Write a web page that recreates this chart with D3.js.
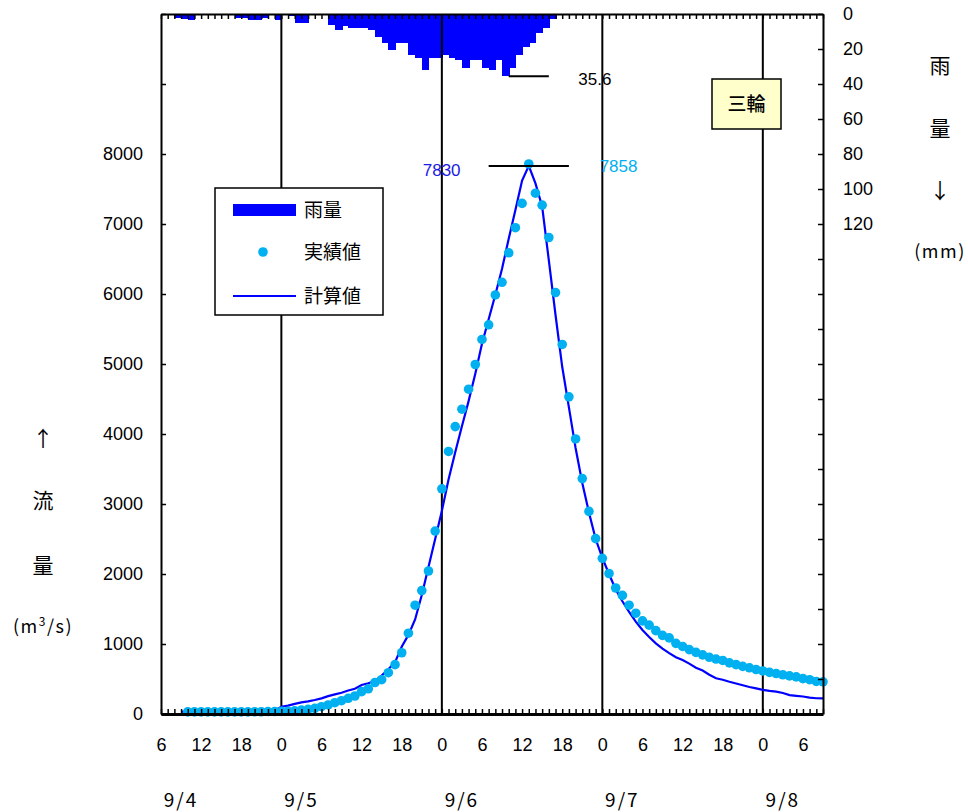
<!DOCTYPE html>
<html><head><meta charset="utf-8">
<script src="https://cdn.jsdelivr.net/npm/d3@7"></script>
<style>
body{margin:0;background:#fff;}
svg{display:block;}
text{font-family:"Liberation Sans",Arial,sans-serif;}
.jp{font-family:"Noto Sans CJK JP","Noto Sans",sans-serif;}
</style></head>
<body>
<svg id="c" width="968" height="812"></svg>
<script>
// ---- data (hours counted from 9/4 6:00) ----
const rainStart = 0;
const rain = [0,0,2,3,3.5,0,0,0,0,0, 0,2,2,3.5,3.5,2,0.5,3.5,0,1,
  5,5,0,0,0,6,9.2,7,8,8.1, 8.1,9.2,13.4,16.3,20.7,16.3,16.3,23.5,24.9,31.9,
  24.9,24.9,23.5,24.9,26.2,30.6,26.2,26.2,30.6,31.9, 26.2,35.6,30.6,23.3,19.1,16.3,11.1,8.1,3];
const obsStart = 4;
const obsFlow = [30,30,30,30,30,30,30,30,30,30,32,32,35,35,38,40,45,55,
  67,81,104,129,161,190,224,257,319,360,450,490,590,705,875,1154,1554,1763,2043,2614,
  3217,3751,4106,4354,4640,4993,5351,5560,5986,6167,6589,6947,7294,7858,7440,7269,6807,6021,
  5279,4531,3929,3363,2894,2506,2224,2007,1800,1694,1554,1440,1331,1269,1191,1123,1087,1009,
  965,920,880,845,810,785,765,730,705,680,660,635,615,595,578,560,545,530,505,490,465,460];
const calcStart = 3;
const calcFlow = [35,35,35,35,35,35,35,35,35,35,38,40,42,45,50,
  104,120,145,165,180,200,224,255,280,304,335,360,414,440,470,550,640,740,960,1130,1350,1700,
  2100,2500,2900,3350,3740,4110,4470,4860,5290,5640,5990,6360,6790,7200,7620,7830,7580,7250,
  6480,5700,4960,4380,3800,3300,2880,2500,2230,2000,1780,1610,1460,1320,1200,1100,1010,935,870,
  810,770,720,660,620,560,510,490,460,435,410,385,365,345,330,320,300,270,260,250,235,225,224];
const hourTickLabels = ["6","12","18","0","6","12","18","0","6","12","18","0","6","12","18","0","6"];
const dayLineHours = [18,42,66,90];
const dateLabels = ["9/4","9/5","9/6","9/7","9/8"];
const dateLabelHours = [3,21,45,69,93];
const flowTicks = [0,1000,2000,3000,4000,5000,6000,7000,8000,9000,10000];
const rainTicks = [0,20,40,60,80,100,120,140,160,180,200,220,240,260,280,300,320,340,360,380,400];
const peakCalc = {hour:55, value:7830, label:"7830"};
const peakObs = {hour:55, value:7858, label:"7858"};
const peakRain = {hour:51, value:35.6, label:"35.6"};
const stationName = "三輪";
const legendLabels = ["雨量","実績値","計算値"];

// ---- layout ----
const L=161, R=823, T=14, B=714;
const svg = d3.select("#c");
const x = d3.scaleLinear().domain([0,99]).range([L,R]);
const yL = d3.scaleLinear().domain([0,10000]).range([B,T]);
const yR = d3.scaleLinear().domain([0,400]).range([T,B]);
const BLUE="#0000FF", CYAN="#00B0F0";

// rain bars
svg.append("g").attr("shape-rendering","crispEdges").selectAll("rect").data(rain).join("rect")
  .attr("x",(d,i)=>x(rainStart+i))
  .attr("width",(d,i)=>x(rainStart+i+1)-x(rainStart+i)+1)
  .attr("y",yR(0))
  .attr("height",d=>yR(d)-yR(0))
  .attr("fill",BLUE);

// day lines
svg.append("g").selectAll("line").data(dayLineHours).join("line")
  .attr("x1",d=>x(d)).attr("x2",d=>x(d)).attr("y1",T).attr("y2",B)
  .attr("stroke","#000").attr("stroke-width",2);

// calc line
svg.append("path").datum(calcFlow)
  .attr("d",d3.line().x((d,i)=>x(calcStart+i)).y(d=>yL(d)))
  .attr("fill","none").attr("stroke",BLUE).attr("stroke-width",2.2);

// observed dots
svg.append("g").selectAll("circle").data(obsFlow).join("circle")
  .attr("cx",(d,i)=>x(obsStart+i)).attr("cy",d=>yL(d)).attr("r",4.8).attr("fill",CYAN);

// peak markers
svg.append("line").attr("x1",x(peakCalc.hour-6)).attr("x2",x(peakCalc.hour+6))
  .attr("y1",yL(peakCalc.value)).attr("y2",yL(peakCalc.value)).attr("stroke","#000").attr("stroke-width",2);
svg.append("text").attr("x",x(peakCalc.hour-10.2)).attr("y",yL(peakCalc.value)+10)
  .attr("text-anchor","end").attr("font-size",17).attr("fill","#1a1aE6").text(peakCalc.label);
svg.append("text").attr("x",x(peakObs.hour+10.6)).attr("y",yL(peakObs.value)+8)
  .attr("font-size",17).attr("fill",CYAN).text(peakObs.label);
svg.append("line").attr("x1",x(peakRain.hour+1)).attr("x2",x(peakRain.hour+7))
  .attr("y1",yR(peakRain.value)).attr("y2",yR(peakRain.value)).attr("stroke","#000").attr("stroke-width",2);
svg.append("text").attr("x",x(peakRain.hour+11.4)).attr("y",yR(peakRain.value)+9)
  .attr("font-size",17).attr("fill","#000").text(peakRain.label);

// axes
function styleAxis(g){
  g.select(".domain").attr("stroke","#000").attr("stroke-width",2);
  g.selectAll(".tick line").attr("stroke","#000").attr("stroke-width",1.5);
  g.selectAll(".tick text").attr("font-size",18).attr("fill","#000")
   .attr("font-family","'Liberation Sans',Arial,sans-serif");
}
svg.append("g").attr("transform",`translate(0,${T})`)
  .call(d3.axisTop(x).tickValues(d3.range(0,100)).tickSizeInner(-5).tickSizeOuter(0).tickFormat(""))
  .call(styleAxis);
svg.append("g").attr("transform",`translate(0,${B})`)
  .call(d3.axisBottom(x).tickValues(d3.range(0,100)).tickSizeInner(-5).tickSizeOuter(0).tickPadding(24)
    .tickFormat(h=> h%6===0 ? hourTickLabels[h/6] : ""))
  .call(styleAxis)
  .call(g=>g.select(".domain").attr("stroke-width",3));
svg.append("g").attr("transform",`translate(${L},0)`)
  .call(d3.axisLeft(yL).tickValues(flowTicks).tickSizeInner(-5).tickSizeOuter(0).tickPadding(18)
    .tickFormat(d=> d<=8000 ? d : ""))
  .call(styleAxis);
svg.append("g").attr("transform",`translate(${R},0)`)
  .call(d3.axisRight(yR).tickValues(rainTicks).tickSizeInner(-5).tickSizeOuter(0).tickPadding(20)
    .tickFormat(d=> d<=120 ? d : ""))
  .call(styleAxis);

// date labels
svg.append("g").selectAll("text").data(dateLabels).join("text")
  .attr("class","jp").attr("x",(d,i)=>x(dateLabelHours[i])).attr("y",807)
  .attr("text-anchor","middle").attr("font-size",19).attr("letter-spacing",2).text(d=>d);

// axis titles
const leftTitle = ["↑","流","量"], leftTitleY=[446,508,573];
svg.append("g").selectAll("text").data(leftTitle).join("text").attr("class","jp")
  .attr("x",43).attr("y",(d,i)=>leftTitleY[i]).attr("text-anchor","middle").attr("font-size",21).text(d=>d);
const lt = svg.append("text").attr("class","jp").attr("x",43).attr("y",633).attr("text-anchor","middle")
  .attr("font-size",18).attr("letter-spacing",1.5);
lt.append("tspan").text("(m");
lt.append("tspan").attr("dy",-7).attr("font-size",12).text("3");
lt.append("tspan").attr("dy",7).text("/s)");
const rightTitle=["雨","量","↓"], rightTitleY=[73,136,198];
svg.append("g").selectAll("text").data(rightTitle).join("text").attr("class","jp")
  .attr("x",940).attr("y",(d,i)=>rightTitleY[i]).attr("text-anchor","middle").attr("font-size",21).text(d=>d);
svg.append("text").attr("class","jp").attr("x",940).attr("y",258).attr("text-anchor","middle")
  .attr("font-size",18).attr("letter-spacing",1.5).text("(mm)");

// legend
const lg = svg.append("g");
lg.append("rect").attr("x",215).attr("y",188).attr("width",168).attr("height",127)
  .attr("fill","#fff").attr("stroke","#000").attr("stroke-width",1.5);
lg.append("rect").attr("x",233).attr("y",204).attr("width",63).attr("height",12).attr("fill",BLUE);
lg.append("circle").attr("cx",263).attr("cy",252).attr("r",4.8).attr("fill",CYAN);
lg.append("line").attr("x1",233).attr("x2",296).attr("y1",296).attr("y2",296).attr("stroke",BLUE).attr("stroke-width",2);
lg.selectAll("text").data(legendLabels).join("text").attr("class","jp")
  .attr("x",304).attr("y",(d,i)=>[217,259,303][i]).attr("font-size",19).text(d=>d);

// station box
svg.append("rect").attr("x",712).attr("y",79).attr("width",69).attr("height",50)
  .attr("fill","#FFFFCC").attr("stroke","#000").attr("stroke-width",1.5);
svg.append("text").attr("class","jp").attr("x",746.5).attr("y",111).attr("text-anchor","middle")
  .attr("font-size",19).attr("font-weight",500).text(stationName);
</script>
</body></html>
